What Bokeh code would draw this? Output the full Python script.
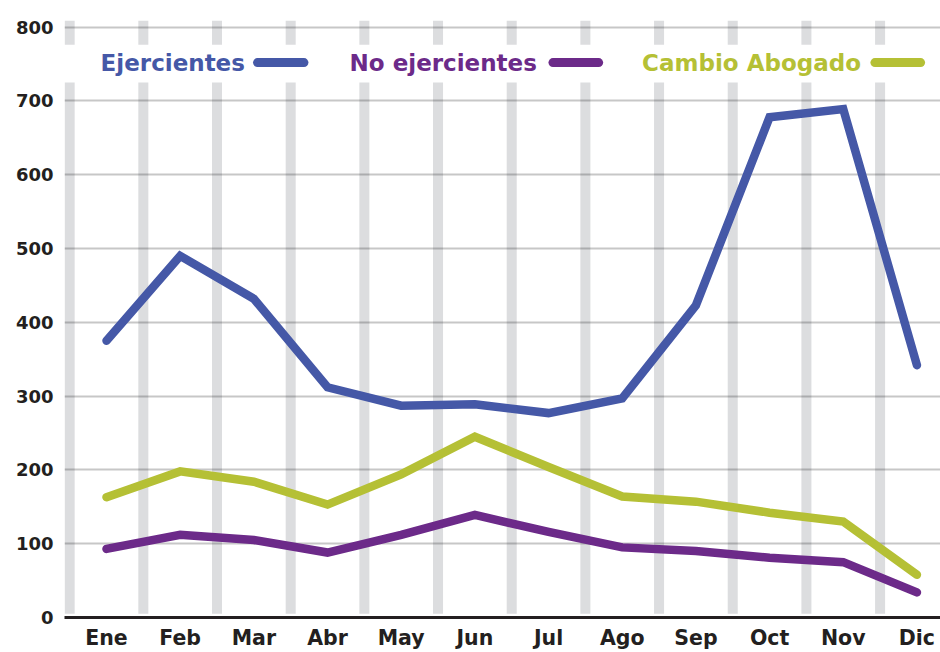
from bokeh.plotting import figure
from bokeh.models import Range1d, FixedTicker, Label
from bokeh.embed import file_html
from bokeh.resources import INLINE

months = ["Ene", "Feb", "Mar", "Abr", "May", "Jun", "Jul", "Ago", "Sep", "Oct", "Nov", "Dic"]
ejercientes = [375, 490, 432, 312, 287, 289, 277, 297, 423, 678, 689, 342]
no_ejercientes = [93, 112, 105, 88, 112, 139, 116, 95, 90, 81, 75, 34]
cambio_abogado = [163, 198, 184, 153, 194, 245, 204, 164, 157, 142, 130, 58]
y_ticks = [0, 100, 200, 300, 400, 500, 600, 700, 800]

series_names = ["Ejercientes", "No ejercientes", "Cambio Abogado"]
series_colors = ["#4558A7", "#6C2A89", "#B5C035"]
TEXT = "#231F20"
FONT = "DejaVu Sans"

x = list(range(len(months)))

p = figure(width=940, height=652, output_backend="svg", toolbar_location=None,
           x_range=Range1d(-0.57, 11.32), y_range=Range1d(0, 809),
           min_border_left=64, min_border_right=0, min_border_top=20, min_border_bottom=35)
p.outline_line_color = None
p.background_fill_color = "white"
p.border_fill_color = "white"

# grey separator bands between months, interrupted by the legend strip
sep = [i - 0.5 for i in x]
bw = 0.068
gap_lo, gap_hi = 725, 776
r1 = p.quad(left=[s - bw for s in sep], right=[s + bw for s in sep],
            bottom=[5] * len(sep), top=[gap_lo] * len(sep),
            fill_color="#DCDDDF", line_color=None)
r2 = p.quad(left=[s - bw for s in sep], right=[s + bw for s in sep],
            bottom=[gap_hi] * len(sep), top=[809] * len(sep),
            fill_color="#DCDDDF", line_color=None)
r1.level = "image"
r2.level = "image"

# axes
p.xgrid.grid_line_color = None
p.ygrid.ticker = FixedTicker(ticks=y_ticks[1:])
p.ygrid.grid_line_color = "black"
p.ygrid.grid_line_alpha = 0.22
p.ygrid.grid_line_width = 1.8

p.yaxis.ticker = FixedTicker(ticks=y_ticks)
p.yaxis.axis_line_color = None
p.yaxis.major_tick_line_color = None
p.yaxis.minor_tick_line_color = None
p.yaxis.major_tick_out = 0
p.yaxis.major_label_standoff = 11
p.yaxis.major_label_text_font = FONT
p.yaxis.major_label_text_font_style = "bold"
p.yaxis.major_label_text_font_size = "18px"
p.yaxis.major_label_text_color = TEXT

p.xaxis.ticker = FixedTicker(ticks=x)
p.xaxis.major_label_overrides = {i: m for i, m in zip(x, months)}
p.xaxis.axis_line_color = TEXT
p.xaxis.axis_line_width = 3
p.xaxis.major_tick_line_color = None
p.xaxis.minor_tick_line_color = None
p.xaxis.major_tick_out = 0
p.xaxis.major_label_standoff = 8
p.xaxis.major_label_text_font = FONT
p.xaxis.major_label_text_font_style = "bold"
p.xaxis.major_label_text_font_size = "20.5px"
p.xaxis.major_label_text_color = TEXT

# data lines
for ys, c in zip([ejercientes, no_ejercientes, cambio_abogado], series_colors):
    p.line(x, ys, line_color=c, line_width=8.5, line_cap="round", line_join="miter")

# custom legend: label followed by a line sample
legend_text_x = [-0.08, 3.30, 7.27]
legend_line_x = [(2.05, 2.68), (6.06, 6.68), (10.43, 11.05)]
legend_text_y = 752
legend_line_y = 752
for name, c, tx, (l0, l1) in zip(series_names, series_colors, legend_text_x, legend_line_x):
    p.add_layout(Label(x=tx, y=legend_text_y, text=name, text_color=c,
                       text_font=FONT, text_font_style="bold", text_font_size="23px",
                       text_align="left", text_baseline="alphabetic"))
    p.line([l0, l1], [legend_line_y, legend_line_y], line_color=c, line_width=9, line_cap="round")

open("out.html", "w").write(file_html(p, INLINE))
